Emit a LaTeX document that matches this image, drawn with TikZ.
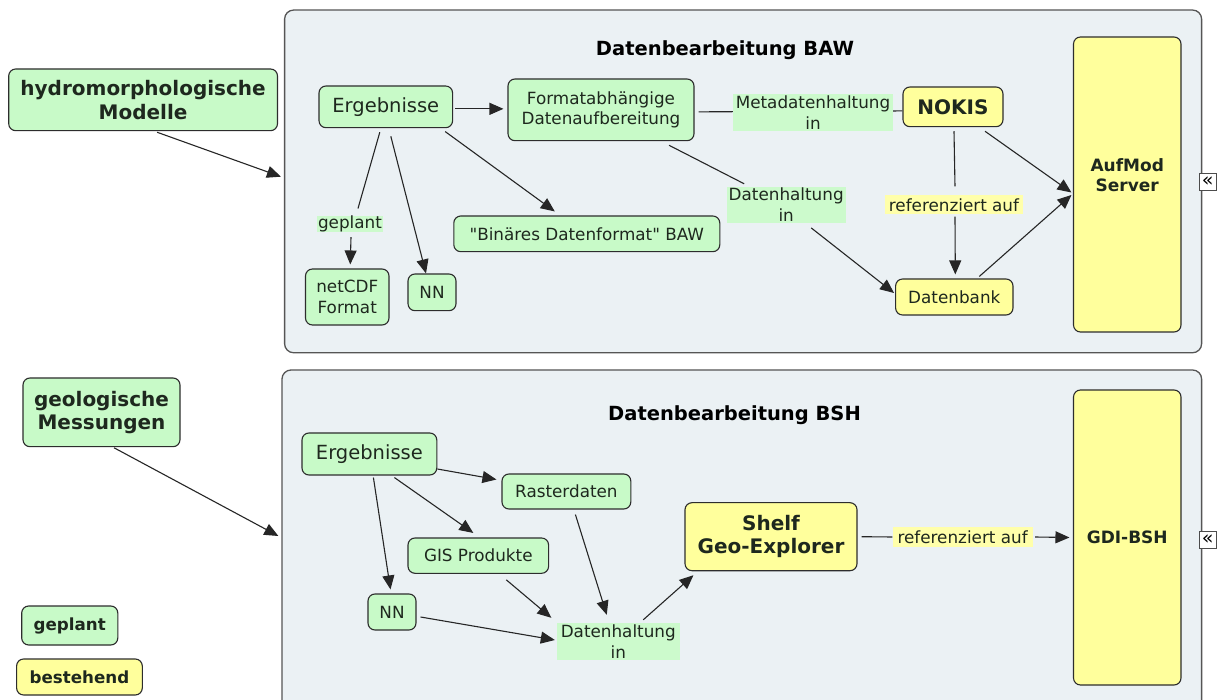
\documentclass[tikz,border=0pt]{standalone}
\usepackage{fontspec}
\setmainfont[Ligatures=TeXOff]{DejaVu Sans}
\usetikzlibrary{arrows.meta,calc}
\definecolor{gfill}{RGB}{200,250,200}
\definecolor{glabfill}{RGB}{204,250,204}
\definecolor{yfill}{RGB}{255,255,156}
\definecolor{ylabfill}{RGB}{255,255,170}
\definecolor{panelfill}{RGB}{235,241,244}
\definecolor{panelline}{RGB}{85,85,85}
\definecolor{boxline}{RGB}{45,45,45}
\definecolor{txt}{RGB}{30,40,30}
\tikzset{
  box/.style={draw=boxline, line width=1.1pt, rounded corners=7pt, inner sep=0pt, align=center, text=txt},
  gbox/.style={box, fill=gfill},
  ybox/.style={box, fill=yfill},
  glab/.style={fill=glabfill, inner sep=0pt, align=center, text=txt},
  ylab/.style={fill=ylabfill, inner sep=0pt, align=center, text=txt},
  panel/.style={draw=panelline, fill=panelfill, line width=1.3pt, rounded corners=9pt, inner sep=0pt},
  sz/.style 2 args={minimum width=#1pt, minimum height=#2pt},
  rtxt/.style={font=\fontsize{16.8}{20.5}\selectfont},
  etxt/.style={font=\fontsize{19.5}{23}\selectfont},
  btxt/.style={font=\bfseries\fontsize{20}{23.5}\selectfont},
  bstxt/.style={font=\bfseries\fontsize{17}{20.5}\selectfont},
  ttxt/.style={font=\bfseries\fontsize{19.5}{23}\selectfont, text=black},
  conn/.style={draw=black!85, line width=1.1pt},
  arr/.style={conn, -{Triangle[length=14pt,width=12pt]}},
  collapse/.style={draw=black!70, fill=white, line width=0.8pt, inner sep=0pt, minimum width=17.6pt, minimum height=17pt, font=\fontsize{19}{19}\selectfont}
}
\begin{document}
\begin{tikzpicture}[x=1pt,y=-1pt]
\useasboundingbox (0,0) rectangle (1219,700);
\clip (0,0) rectangle (1219,700);
\fill[white] (0,0) rectangle (1219,700);

% panels
\node[panel, sz={917}{342.7}] (bawbox) at (743.1,181.4) {};
\node[panel, sz={919.6}{345}] (bshbox) at (741.8,542.5) {};

% titles
\node[ttxt] (tA) at (725,50) {Datenbearbeitung BAW};
\node[ttxt] (tB) at (734.5,415) {Datenbearbeitung BSH};

% BAW nodes
\node[gbox, btxt, sz={268.8}{61.7}] (hydro) at (143.1,99.85) {hydromorphologische\\Modelle};
\node[gbox, etxt, sz={133.6}{41.7}] (ergA) at (385.8,106.85) {Ergebnisse};
\node[gbox, rtxt, sz={186}{61.7}] (form) at (601,109.85) {Formatabhängige\\Datenaufbereitung};
\node[glab, rtxt, sz={160}{37}] (meta) at (813,112.5) {Metadatenhaltung\\in};
\node[ybox, btxt, sz={100}{39.7}] (nokis) at (953,106.85) {NOKIS};
\node[ybox, sz={107.5}{295}, label={[bstxt, text=txt, align=center, yshift=9.5pt]center:AufMod\\Server}] (aufmod) at (1127.25,184.5) {};
\node[ylab, rtxt, sz={138}{19}] (refA) at (954,205) {referenziert auf};
\node[ybox, rtxt, sz={117.4}{36}] (datenbank) at (954.3,297) {Datenbank};
\node[glab, rtxt, sz={119.3}{35.7}] (dhA) at (786.2,204.85) {Datenhaltung\\in};
\node[gbox, rtxt, sz={266}{35.7}] (binaer) at (586.8,233.85) {"Binäres Datenformat" BAW};
\node[glab, rtxt, sz={66}{16}] (geplantA) at (350,223.8) {geplant};
\node[gbox, rtxt, sz={83.5}{56}] (netcdf) at (347.25,297) {netCDF\\Format};
\node[gbox, rtxt, sz={48}{36.7}] (nnA) at (432,292.35) {NN};
\node[collapse] (colA) at (1207.8,181.5) {«};

% BSH nodes
\node[gbox, btxt, sz={157}{68.7}] (geo) at (101.5,412.35) {geologische\\Messungen};
\node[gbox, etxt, sz={134.8}{42}] (ergB) at (369.4,454) {Ergebnisse};
\node[gbox, rtxt, sz={128.8}{35}] (raster) at (566.4,491.5) {Rasterdaten};
\node[gbox, rtxt, sz={140.6}{35.3}] (gis) at (478.3,555.65) {GIS Produkte};
\node[gbox, rtxt, sz={48}{36}] (nnB) at (392,612) {NN};
\node[glab, rtxt, sz={123.5}{37}] (dhB) at (618.25,641.5) {Datenhaltung\\in};
\node[ybox, btxt, sz={172}{68}] (shelf) at (771,536.7) {Shelf\\Geo-Explorer};
\node[ylab, rtxt, sz={140.3}{19}] (refB) at (962.65,537) {referenziert auf};
\node[ybox, bstxt, sz={107.5}{295}] (gdi) at (1127.25,537.5) {GDI-BSH};
\node[collapse] (colB) at (1207.8,540) {«};

% legend
\node[gbox, font=\bfseries\fontsize{16.7}{20}\selectfont, sz={96.1}{39}] (leg1) at (69.75,625.5) {geplant};
\node[ybox, font=\bfseries\fontsize{16.7}{20}\selectfont, sz={125.7}{36}] (leg2) at (79.45,677) {bestehend};

% BAW connectors
\draw[arr] ($(hydro.south)+(14,1)$) -- ($(bawbox.west)+(-3,-4.7)$);
\draw[arr] ($(ergA.east)+(2,2)$) -- ($(form.west)+(-4,-1)$);
\draw[conn] ($(ergA.south)+(-6,4)$) -- ($(geplantA.north)+(8,-7)$);
\draw[arr] ($(geplantA.south)+(1,5)$) -- ($(netcdf.north)+(3,-4)$);
\draw[arr] ($(ergA.south)+(5,8)$) -- ($(nnA.north)+(-6,0)$);
\draw[arr] ($(ergA.south east)+(-8,3.3)$) -- ($(binaer.north)+(-32,-4)$);
\draw[conn] ($(form.east)+(4,2)$) -- ($(meta.west)+(0,-0.8)$);
\draw[conn] ($(meta.east)+(0,-1.5)$) -- ($(nokis.west)+(0,4)$);
\draw[conn] ($(nokis.south)+(1,4)$) -- ($(refA.north)+(1,-9)$);
\draw[arr] ($(refA.south)+(1,2)$) -- ($(datenbank.north)+(1,-4)$);
\draw[arr] ($(nokis.south)+(32,4)$) -- ($(aufmod.west)+(-1.5,8)$);
\draw[arr] ($(datenbank.north)+(25,-2)$) -- ($(aufmod.west)+(-1.5,10.5)$);
\draw[conn] ($(form.south)+(68,4)$) -- ($(dhA.north)+(-42,-3)$);
\draw[arr] ($(dhA.south)+(25,5)$) -- ($(datenbank.west)+(-1,-4)$);

% BSH connectors
\draw[arr] ($(geo.south)+(12.5,0.5)$) -- ($(bshbox.west)+(-3,-6.5)$);
\draw[arr] ($(ergB.east)+(0,15)$) -- ($(raster.west)+(-5,-12)$);
\draw[arr] ($(ergB.south)+(25,2)$) -- ($(gis.north)+(-5,-4.5)$);
\draw[arr] ($(ergB.south)+(4,2)$) -- ($(nnB.north)+(-1.5,-4)$);
\draw[arr] ($(nnB.east)+(4,5)$) -- ($(dhB.west)+(-1.5,-1.5)$);
\draw[arr] ($(gis.south)+(28,6)$) -- ($(dhB.north west)+(-5,-5)$);
\draw[arr] ($(raster.south)+(9,5)$) -- ($(dhB.north)+(-11.5,-8)$);
\draw[arr] ($(dhB.north)+(25,-3)$) -- ($(shelf.south west)+(9,4)$);
\draw[conn] ($(shelf.east)+(4,0)$) -- (refB.west);
\draw[arr] ($(refB.east)+(2,0)$) -- ($(gdi.west)+(-3.5,0)$);
\end{tikzpicture}
\end{document}
